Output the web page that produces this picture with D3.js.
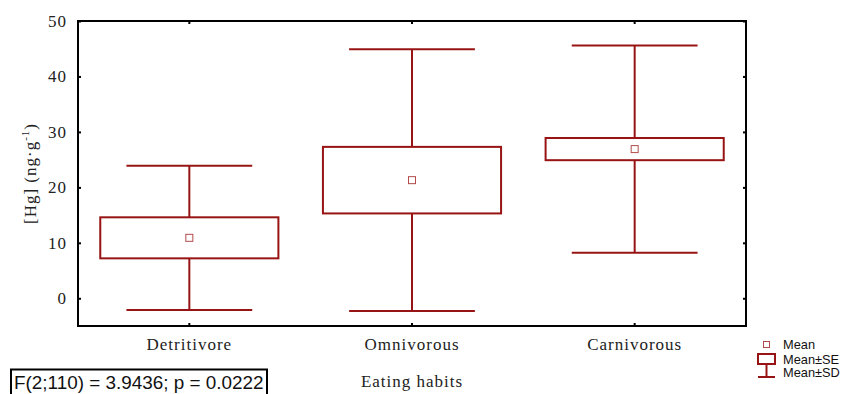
<!DOCTYPE html>
<html>
<head>
<meta charset="utf-8">
<script src="https://cdn.jsdelivr.net/npm/d3@7"></script>
<style>
  html, body { margin: 0; padding: 0; background: #fff; }
  svg { display: block; }
  .serif { font-family: "Liberation Serif", "Times New Roman", serif; fill: #222; letter-spacing: 1px; }
  .sans { font-family: "Liberation Sans", Arial, sans-serif; fill: #111; }
</style>
</head>
<body>
<svg id="chart" width="856" height="394"></svg>
<script>
// Mercury concentration by eating habit: mean, standard error, standard deviation
const categories = ["Detritivore", "Omnivorous", "Carnivorous"];
const means = [10.9, 21.3, 26.9];
const se = [3.7, 6.0, 2.0];
const sd = [13.0, 23.6, 18.7];
const yTicks = [0, 10, 20, 30, 40, 50];
const statText = "F(2;110) = 3.9436; p = 0.0222";
const legendLabels = ["Mean", "Mean\u00B1SE", "Mean\u00B1SD"];

const data = categories.map((c, i) => ({ cat: c, mean: means[i], se: se[i], sd: sd[i] }));

const W = 856, H = 394;
const margin = { left: 78, right: 110, top: 21, bottom: 68 };
const red = "#981414";
const markerRed = "#b34a4a";

const svg = d3.select("#chart");

const x = d3.scaleBand().domain(categories).range([margin.left, W - margin.right]).padding(0);
const y = d3.scaleLinear().domain([-5, 50]).range([H - margin.bottom, margin.top]);

const boxW = x.bandwidth() * 0.8;
const capW = x.bandwidth() * 0.565;

// Axes: inward ticks, labels on left and bottom only
const axLeft = svg.append("g").attr("transform", `translate(${margin.left},0)`)
  .call(d3.axisLeft(y).tickValues(yTicks).tickSizeInner(-3).tickSizeOuter(0).tickPadding(11));
const axRight = svg.append("g").attr("transform", `translate(${W - margin.right},0)`)
  .call(d3.axisRight(y).tickValues(yTicks).tickSizeInner(-3).tickSizeOuter(0).tickFormat(""));
const axBottom = svg.append("g").attr("transform", `translate(0,${H - margin.bottom})`)
  .call(d3.axisBottom(x).tickSizeInner(-3).tickSizeOuter(0).tickPadding(12));
const axTop = svg.append("g").attr("transform", `translate(0,${margin.top})`)
  .call(d3.axisTop(x).tickSizeInner(-3).tickSizeOuter(0).tickFormat(""));

[axLeft, axRight, axBottom, axTop].forEach(g => {
  g.attr("font-family", null);
  g.select(".domain").remove();
  g.selectAll(".tick line").attr("stroke", "#000").attr("stroke-width", 2);
  g.selectAll("text").attr("class", "serif").attr("font-size", 17).attr("fill", "#222");
});

// Plot frame
svg.append("rect")
  .attr("x", margin.left).attr("y", margin.top)
  .attr("width", W - margin.left - margin.right)
  .attr("height", H - margin.top - margin.bottom)
  .attr("fill", "none").attr("stroke", "#000").attr("stroke-width", 2);

// Whiskers (mean ± SD)
const groups = svg.append("g").selectAll("g").data(data).join("g");
const cx = d => x(d.cat) + x.bandwidth() / 2;

groups.append("line")
  .attr("x1", cx).attr("x2", cx)
  .attr("y1", d => y(d.mean + d.sd)).attr("y2", d => y(d.mean - d.sd))
  .attr("stroke", red).attr("stroke-width", 2);
groups.append("line")
  .attr("x1", d => cx(d) - capW / 2).attr("x2", d => cx(d) + capW / 2)
  .attr("y1", d => y(d.mean + d.sd)).attr("y2", d => y(d.mean + d.sd))
  .attr("stroke", red).attr("stroke-width", 2);
groups.append("line")
  .attr("x1", d => cx(d) - capW / 2).attr("x2", d => cx(d) + capW / 2)
  .attr("y1", d => y(d.mean - d.sd)).attr("y2", d => y(d.mean - d.sd))
  .attr("stroke", red).attr("stroke-width", 2);

// Boxes (mean ± SE)
groups.append("rect")
  .attr("x", d => cx(d) - boxW / 2)
  .attr("y", d => y(d.mean + d.se))
  .attr("width", boxW)
  .attr("height", d => y(d.mean - d.se) - y(d.mean + d.se))
  .attr("fill", "#fff").attr("stroke", red).attr("stroke-width", 2);

// Mean markers
groups.append("rect")
  .attr("x", d => cx(d) - 3.5).attr("y", d => y(d.mean) - 3.5)
  .attr("width", 7).attr("height", 7)
  .attr("fill", "#fff").attr("stroke", markerRed).attr("stroke-width", 1);

// Y axis title with superscript
const yTitle = svg.append("text")
  .attr("class", "serif").attr("font-size", 17)
  .attr("text-anchor", "middle")
  .attr("transform", `translate(36,${(margin.top + H - margin.bottom) / 2}) rotate(-90)`);
yTitle.append("tspan").text("[Hg] (ng\u00B7g");
yTitle.append("tspan").attr("font-size", 11).attr("dy", -7).text("-1");
yTitle.append("tspan").attr("dy", 7).text(")");

// X axis title
svg.append("text")
  .attr("class", "serif").attr("font-size", 17)
  .attr("text-anchor", "middle")
  .attr("x", (margin.left + W - margin.right) / 2).attr("y", 387)
  .text("Eating habits");

// Test statistic box
const stat = svg.append("g");
stat.append("rect")
  .attr("x", 11).attr("y", 369.5).attr("width", 256).attr("height", 30)
  .attr("fill", "#fff").attr("stroke", "#000").attr("stroke-width", 2);
stat.append("text")
  .attr("class", "sans").attr("font-size", 18.9)
  .attr("x", 14).attr("y", 388.5)
  .text(statText);

// Legend
const lg = svg.append("g");
lg.append("rect")
  .attr("x", 763.5).attr("y", 341.5).attr("width", 6).attr("height", 6)
  .attr("fill", "#fff").attr("stroke", markerRed).attr("stroke-width", 1);
lg.append("rect")
  .attr("x", 758).attr("y", 354).attr("width", 17).attr("height", 10)
  .attr("fill", "#fff").attr("stroke", red).attr("stroke-width", 2);
lg.append("line")
  .attr("x1", 766.5).attr("x2", 766.5).attr("y1", 364).attr("y2", 377)
  .attr("stroke", red).attr("stroke-width", 2);
lg.append("line")
  .attr("x1", 758).attr("x2", 775).attr("y1", 377).attr("y2", 377)
  .attr("stroke", red).attr("stroke-width", 2);
lg.selectAll("text").data(legendLabels).join("text")
  .attr("class", "sans").attr("font-size", 12.8)
  .attr("x", 783)
  .attr("y", (d, i) => [349, 363.5, 377][i])
  .text(d => d);
</script>
</body>
</html>
